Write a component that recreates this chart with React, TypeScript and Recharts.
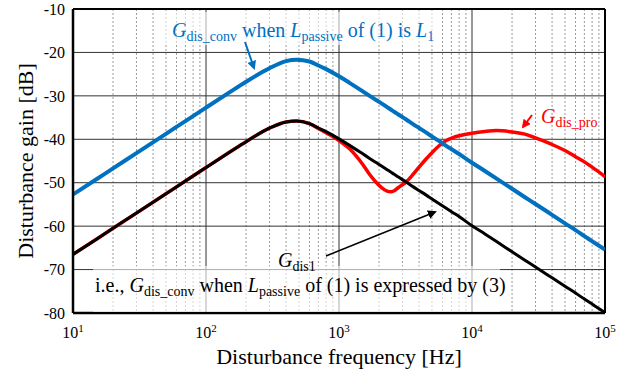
import React from 'react';
import { LineChart, Line, XAxis, YAxis, CartesianGrid, ReferenceLine } from 'recharts';

const freq = [10, 15, 20, 30, 50, 70, 100, 150, 200, 300, 400, 480, 600, 700, 800, 1000, 1200, 1500, 1700, 1900, 2100, 2300, 2450, 2600, 2800, 3200, 3600, 4000, 4500, 5000, 5600, 6400, 7200, 8000, 10000, 12500, 15300, 20000, 25000, 30000, 40000, 50000, 60000, 70000, 85000, 100000];

const gDisConv = [-52.7, -49.2, -46.7, -43.2, -38.75, -35.8, -32.7, -29.2, -26.75, -23.65, -22.0, -21.7, -22.1, -23.0, -23.85, -25.5, -27.0, -28.9, -30.0, -30.95, -31.8, -32.6, -33.15, -33.65, -34.3, -35.45, -36.5, -37.4, -38.4, -39.35, -40.3, -41.5, -42.5, -43.4, -45.4, -47.3, -49.05, -51.4, -53.35, -54.9, -57.4, -59.35, -60.9, -62.3, -64.0, -65.4];

const gDis1 = [-66.5, -63.0, -60.5, -57.0, -52.55, -49.6, -46.5, -43.0, -40.55, -37.45, -36.0, -35.8, -36.4, -37.4, -38.25, -39.9, -41.4, -43.3, -44.4, -45.35, -46.2, -47.0, -47.55, -48.05, -48.7, -49.85, -50.9, -51.8, -52.8, -53.75, -54.75, -55.9, -56.9, -57.8, -59.9, -61.8, -63.55, -65.9, -67.85, -69.4, -71.9, -73.85, -75.4, -76.8, -78.5, -79.9];

const gDisPro = [-66.5, -63.0, -60.5, -57.0, -52.55, -49.6, -46.5, -43.0, -40.55, -37.45, -36.0, -35.8, -36.4, -37.5, -38.5, -40.3, -42.2, -45.7, -48.1, -49.9, -51.2, -51.95, -52.1, -51.85, -51.1, -49.8, -48.1, -46.4, -44.6, -43.1, -41.6, -40.3, -39.6, -39.2, -38.6, -38.2, -38.0, -38.3, -38.8, -39.7, -41.2, -42.6, -44.0, -45.2, -47.0, -48.6];

const xTicks = [10, 100, 1000, 10000, 100000];
const yTicks = [-80, -70, -60, -50, -40, -30, -20, -10];
const decades = [10, 100, 1000, 10000];
const minorMult = [2, 3, 4, 5, 6, 7, 8, 9];
const minorFreqs = decades.flatMap((d) => minorMult.map((m) => d * m));

const data = freq.map((f, i) => ({ f, conv: gDisConv[i], dis1: gDis1[i], pro: gDisPro[i] }));

const BLUE = '#0070C0';
const RED = '#FF0000';
const FONT = 'Liberation Serif';

const XTick = (props: any) => {
  const { x, y, payload } = props;
  const exp = Math.round(Math.log10(payload.value));
  return (
    <text x={x} y={y + 17} textAnchor="middle" style={{ fontFamily: FONT }} fontSize={16} fill="#000">
      <tspan>10</tspan>
      <tspan fontSize={11} dy={-6}>{exp}</tspan>
    </text>
  );
};

const minorGen = (args: any) => {
  const { xAxis, offset } = args;
  if (xAxis && typeof xAxis.scale === 'function') {
    return minorFreqs.map((f) => xAxis.scale(f));
  }
  return minorFreqs.map((f) => offset.left + (offset.width * (Math.log10(f) - 1)) / 4);
};

const Sub = ({ children }: any) => (
  <tspan fontSize={14} dy={4}>{children}</tspan>
);
const Up = ({ children }: any) => <tspan dy={-4}>{children}</tspan>;

export default function App() {
  return (
    <div style={{ position: 'absolute', left: 0, top: 0, width: 634, height: 372, background: '#fff', fontFamily: FONT }}>
      <LineChart width={634} height={372} data={data} margin={{ top: 9, right: 29, left: 0, bottom: 0 }} style={{ fontFamily: FONT }}>
        <CartesianGrid horizontal={false} stroke="#9a9a9a" strokeDasharray="2 2" verticalCoordinatesGenerator={minorGen} />
        <CartesianGrid stroke="#333" strokeWidth={1} />
        <XAxis
          dataKey="f"
          type="number"
          scale="log"
          domain={[10, 100000]}
          ticks={xTicks}
          allowDataOverflow
          height={59}
          tick={<XTick />}
          tickLine={false}
          axisLine={{ stroke: '#000', strokeWidth: 2.5 }}
        />
        <YAxis
          type="number"
          domain={[-80, -10]}
          ticks={yTicks}
          width={73}
          tickLine={false}
          axisLine={{ stroke: '#000', strokeWidth: 2.5 }}
          tick={{ fill: '#000', fontSize: 16, style: { fontFamily: FONT } }}
        />
        <ReferenceLine y={-10} stroke="#000" strokeWidth={2} />
        <ReferenceLine x={100000} stroke="#000" strokeWidth={2} />
        <Line type="monotone" dataKey="pro" stroke={RED} strokeWidth={3.5} dot={false} isAnimationActive={false} />
        <Line type="monotone" dataKey="dis1" stroke="#000" strokeWidth={3} dot={false} isAnimationActive={false} />
        <Line type="monotone" dataKey="conv" stroke={BLUE} strokeWidth={4} dot={false} isAnimationActive={false} />
      </LineChart>
      <svg width={634} height={372} style={{ position: 'absolute', left: 0, top: 0, pointerEvents: 'none', fontFamily: FONT }}>
        <defs>
          <marker id="ahB" markerWidth="9" markerHeight="9" refX="7" refY="4.5" orient="auto" markerUnits="userSpaceOnUse">
            <path d="M0,0 L9,4.5 L0,9 Z" fill={BLUE} />
          </marker>
          <marker id="ahR" markerWidth="9" markerHeight="9" refX="7" refY="4.5" orient="auto" markerUnits="userSpaceOnUse">
            <path d="M0,0 L9,4.5 L0,9 Z" fill={RED} />
          </marker>
          <marker id="ahK" markerWidth="9" markerHeight="9" refX="7" refY="4.5" orient="auto" markerUnits="userSpaceOnUse">
            <path d="M0,0 L9,4.5 L0,9 Z" fill="#000" />
          </marker>
        </defs>
        <rect x={165} y={12} width={268} height={33} fill="#fff" fillOpacity={0.6} />
        <rect x={93} y={266} width={407} height={46} fill="#fff" fillOpacity={0.6} />
        <text x={172} y={37} fontSize={20} fill={BLUE}>
          <tspan fontStyle="italic">G</tspan>
          <Sub>dis_conv</Sub>
          <Up> when </Up>
          <tspan fontStyle="italic">L</tspan>
          <Sub>passive</Sub>
          <Up> of (1) is </Up>
          <tspan fontStyle="italic">L</tspan>
          <Sub>1</Sub>
        </text>
        <line x1={245} y1={42} x2={254} y2={68} stroke={BLUE} strokeWidth={2} markerEnd="url(#ahB)" />
        <text x={541} y={123} fontSize={20} fill={RED}>
          <tspan fontStyle="italic">G</tspan>
          <Sub>dis_pro</Sub>
        </text>
        <line x1={532} y1={115} x2={523} y2={127} stroke={RED} strokeWidth={2} markerEnd="url(#ahR)" />
        <text x={278} y={267} fontSize={20} fill="#000">
          <tspan fontStyle="italic">G</tspan>
          <Sub>dis1</Sub>
        </text>
        <line x1={326} y1={256} x2={435} y2={212} stroke="#000" strokeWidth={1.5} markerEnd="url(#ahK)" />
        <text x={95} y={292} fontSize={20} fill="#000">
          <tspan>i.e., </tspan>
          <tspan fontStyle="italic">G</tspan>
          <Sub>dis_conv</Sub>
          <Up> when </Up>
          <tspan fontStyle="italic">L</tspan>
          <Sub>passive</Sub>
          <Up> of (1) is expressed by (3)</Up>
        </text>
        <text x={339} y={364} textAnchor="middle" fontSize={22} fill="#000">
          Disturbance frequency [Hz]
        </text>
        <text x={33} y={161} textAnchor="middle" transform="rotate(-90 33 161)" fontSize={22} fill="#000">
          Disturbance gain [dB]
        </text>
      </svg>
    </div>
  );
}
